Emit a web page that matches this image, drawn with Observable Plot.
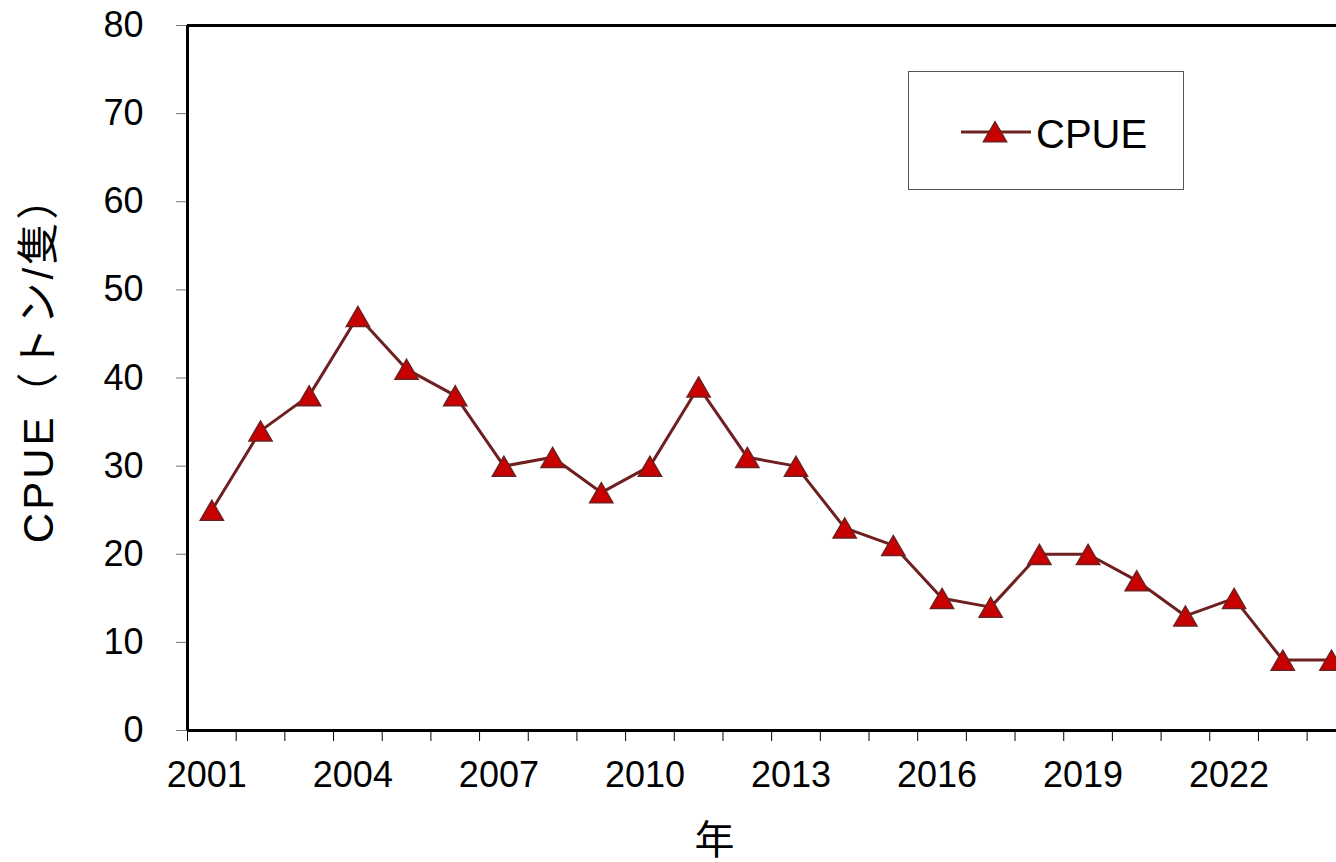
<!DOCTYPE html>
<html><head><meta charset="utf-8">
<script src="https://cdn.jsdelivr.net/npm/d3@7"></script>
<script src="https://cdn.jsdelivr.net/npm/@observablehq/plot@0.6"></script>
<style>
html,body{margin:0;padding:0;background:#fff;overflow:hidden;}
#wrap{position:relative;width:1336px;height:862px;overflow:hidden;}
#legend{position:absolute;left:908px;top:71px;width:274px;height:117px;border:1px solid #555;background:#fff;}
</style></head><body><div id="wrap"></div>
<script>
const years = [2001,2002,2003,2004,2005,2006,2007,2008,2009,2010,2011,2012,2013,2014,2015,2016,2017,2018,2019,2020,2021,2022,2023,2024];
const cpue = [25,34,38,47,41,38,30,31,27,30,39,31,30,23,21,15,14,20,20,17,13,15,8,8];
const yTicks = [0,10,20,30,40,50,60,70,80];
const xTickLabels = [2001,2004,2007,2010,2013,2016,2019,2022];
const seriesName = "CPUE";
const yLabel = "CPUE（トン/隻）";
const xLabel = "年";

const lineColor = "#6e2020", fillColor = "#c80000";
const font = '"Liberation Sans", Arial, "Noto Sans CJK JP", sans-serif';
const data = years.map((year, i) => ({year, value: cpue[i]}));
const boundaries = d3.range(years[0] - 0.5, years[years.length - 1] + 1, 1);
const markerR = 8.6;

const chart = Plot.plot({
  width: 1336, height: 862,
  marginLeft: 187, marginTop: 25, marginBottom: 132, marginRight: 0,
  style: {fontFamily: font, background: "#fff", color: "#000"},
  x: {type: "linear", domain: [boundaries[0], boundaries[boundaries.length - 1]], range: [187, 1355.3]},
  y: {domain: [0, 80], range: [730, 25]},
  marks: [
    Plot.axisY({ticks: yTicks, tickSize: 11, tickPadding: 33, fontSize: 36, stroke: "#777", label: null, tickFormat: d => String(d)}),
    Plot.axisX({ticks: boundaries, tickSize: 11, stroke: "#000", label: null, tickFormat: () => ""}),
    Plot.axisX({ticks: xTickLabels, tickSize: 0, tickPadding: 31, fontSize: 36, dx: -5, label: null, tickFormat: d => String(d)}),
    Plot.ruleY([0, 80], {stroke: "#000", strokeWidth: 3}),
    Plot.ruleX([boundaries[0]], {stroke: "#000", strokeWidth: 3}),
    Plot.line(data, {x: "year", y: "value", stroke: lineColor, strokeWidth: 3}),
    Plot.dot(data, {x: "year", y: "value", symbol: "triangle", r: markerR, fill: fillColor, stroke: lineColor, strokeWidth: 1.5, dy: 3.5}),
    Plot.text([yLabel], {frameAnchor: "left", dx: -148, dy: -19, rotate: -90, fontSize: 42, text: d => d, textAnchor: "middle", lineAnchor: "middle", className: "ylab"}),
    Plot.text([xLabel], {frameAnchor: "bottom-left", dx: 527, dy: 111, fontSize: 40, text: d => d, textAnchor: "middle", lineAnchor: "middle"})
  ]
});
chart.querySelectorAll(".ylab text").forEach(t => t.setAttribute("letter-spacing", "3"));
const wrap = document.getElementById("wrap");
wrap.appendChild(chart);

// legend
const legend = document.createElement("div");
legend.id = "legend";
const triPath = d3.symbol(d3.symbolTriangle, Math.PI * markerR * markerR)();
legend.innerHTML = `<svg width="274" height="117" style="font-family:${font.replace(/"/g, "'")}">
  <line x1="52" x2="122" y1="60" y2="60" stroke="${lineColor}" stroke-width="3"/>
  <path d="${triPath}" transform="translate(86,63)" fill="${fillColor}" stroke="${lineColor}" stroke-width="1.5"/>
  <text x="127" y="76" font-size="40" fill="#000">${seriesName}</text>
</svg>`;
wrap.appendChild(legend);
</script>
</body></html>
